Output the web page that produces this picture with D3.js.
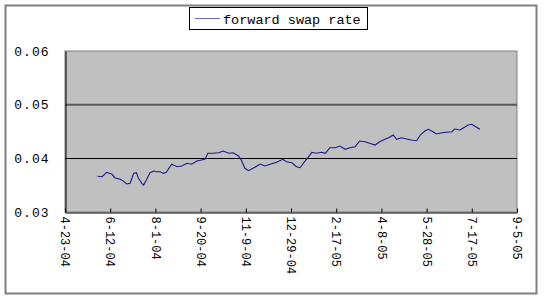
<!DOCTYPE html>
<html><head><meta charset="utf-8">
<script src="https://cdn.jsdelivr.net/npm/d3@7"></script>
<style>html,body{margin:0;padding:0;background:#fff;}svg{display:block;}</style>
</head><body>
<svg id="c" width="544" height="300"></svg>
<script>
const seriesName = "forward swap rate";
const xTickLabels = ["4-23-04","6-12-04","8-1-04","9-20-04","11-9-04","12-29-04","2-17-05","4-8-05","5-28-05","7-17-05","9-5-05"];
const yTickValues = [0.03, 0.04, 0.05, 0.06];
const yTickLabels = ["0.03", "0.04", "0.05", "0.06"];
const dates = ["2004-05-29","2004-06-03","2004-06-08","2004-06-14","2004-06-17","2004-06-23","2004-06-26","2004-06-30","2004-07-04","2004-07-08","2004-07-11","2004-07-13","2004-07-17","2004-07-19","2004-07-22","2004-07-26","2004-07-30","2004-08-02","2004-08-06","2004-08-10","2004-08-13","2004-08-19","2004-08-25","2004-08-30","2004-09-05","2004-09-10","2004-09-16","2004-09-21","2004-09-25","2004-09-28","2004-10-04","2004-10-10","2004-10-15","2004-10-21","2004-10-26","2004-11-01","2004-11-04","2004-11-08","2004-11-12","2004-11-17","2004-11-25","2004-11-30","2004-12-06","2004-12-13","2004-12-20","2004-12-24","2004-12-30","2005-01-04","2005-01-08","2005-01-13","2005-01-17","2005-01-21","2005-01-26","2005-02-01","2005-02-05","2005-02-10","2005-02-16","2005-02-21","2005-02-27","2005-03-04","2005-03-10","2005-03-15","2005-03-21","2005-03-26","2005-04-01","2005-04-06","2005-04-12","2005-04-17","2005-04-21","2005-04-25","2005-04-30","2005-05-06","2005-05-11","2005-05-17","2005-05-21","2005-05-26","2005-05-30","2005-06-04","2005-06-08","2005-06-14","2005-06-19","2005-06-25","2005-06-28","2005-07-04","2005-07-08","2005-07-13","2005-07-17","2005-07-20","2005-07-26"];
const rates = [0.03665,0.03658,0.0374,0.03702,0.03639,0.03609,0.03583,0.03522,0.03535,0.03721,0.03732,0.03639,0.03535,0.03503,0.03596,0.03732,0.03764,0.03751,0.03751,0.03721,0.0374,0.03889,0.03844,0.03857,0.03907,0.03889,0.0395,0.03969,0.03987,0.04094,0.04094,0.04105,0.04136,0.04094,0.04105,0.04043,0.03969,0.03814,0.03769,0.03814,0.03894,0.03857,0.03889,0.03926,0.03982,0.03937,0.03918,0.03844,0.03825,0.03937,0.04019,0.04112,0.04094,0.04112,0.04094,0.04198,0.04198,0.0423,0.04168,0.04198,0.04217,0.04323,0.0431,0.0428,0.04248,0.0431,0.04354,0.04392,0.04434,0.04354,0.04384,0.0436,0.04341,0.04328,0.04434,0.04509,0.04541,0.04496,0.04453,0.04477,0.04485,0.04496,0.04546,0.04528,0.0457,0.04621,0.04634,0.04602,0.04541];

const parseTick = d3.timeParse("%m-%d-%y");
const parseDate = d3.timeParse("%Y-%m-%d");
const tickDates = xTickLabels.map(parseTick);
const data = dates.map((d, i) => ({date: parseDate(d), v: rates[i]}));

const svg = d3.select("#c");
const L = 65, R = 517, T = 51, B = 212;
const x = d3.scaleTime().domain([tickDates[0], tickDates[tickDates.length - 1]]).range([L, R]);
const y = d3.scaleLinear().domain([0.03, 0.06]).range([B, T]);

// outer frame
svg.append("rect").attr("x", 5.5).attr("y", 5.5).attr("width", 531).attr("height", 288)
  .attr("fill", "#fff").attr("stroke", "#808080").attr("stroke-width", 2);

// plot area
svg.append("rect").attr("x", L).attr("y", T).attr("width", R - L).attr("height", B - T)
  .attr("fill", "#c0c0c0").attr("stroke", "#808080").attr("stroke-width", 1);

// gridlines
svg.append("line").attr("x1", L).attr("x2", R).attr("y1", y(0.05)).attr("y2", y(0.05))
  .attr("stroke", "#5a5a5a").attr("stroke-width", 2);
svg.append("line").attr("x1", L).attr("x2", R).attr("y1", Math.round(y(0.04)) + 0.5).attr("y2", Math.round(y(0.04)) + 0.5)
  .attr("stroke", "#000").attr("stroke-width", 1);

// x axis
const xAxis = d3.axisBottom(x).tickValues(tickDates).tickSize(-4).tickSizeOuter(0)
  .tickFormat((d, i) => xTickLabels[i]);
const gx = svg.append("g").attr("transform", `translate(0,${B + 0.5})`).call(xAxis);
gx.select(".domain").attr("stroke", "#000");
gx.selectAll(".tick line").attr("stroke", "#000");
gx.selectAll(".tick text")
  .attr("font-family", "Liberation Mono, DejaVu Sans Mono, monospace")
  .attr("font-size", 12).attr("fill", "#000")
  .attr("transform", "rotate(90)")
  .attr("text-anchor", "start").attr("x", 4).attr("y", 0).attr("dy", "0.35em");

// y axis
const yAxis = d3.axisLeft(y).tickValues(yTickValues).tickSize(0).tickSizeOuter(0)
  .tickFormat((d, i) => yTickLabels[i]);
const gy = svg.append("g").attr("transform", `translate(${L + 0.5},0)`).call(yAxis);
gy.select(".domain").attr("stroke", "#000");
gy.selectAll(".tick text")
  .attr("font-family", "Liberation Mono, DejaVu Sans Mono, monospace")
  .attr("font-size", 13).attr("fill", "#000").attr("letter-spacing", 1)
  .attr("x", -16);

// line
const line = d3.line().x(d => x(d.date)).y(d => y(d.v));
svg.append("path").datum(data).attr("d", line)
  .attr("fill", "none").attr("stroke", "#1a1a8a").attr("stroke-width", 1.1);

// legend
const lg = svg.append("g");
lg.append("rect").attr("x", 189.5).attr("y", 7.5).attr("width", 178).attr("height", 22)
  .attr("fill", "#fff").attr("stroke", "#000").attr("stroke-width", 1);
lg.append("line").attr("x1", 195).attr("x2", 220).attr("y1", 18.5).attr("y2", 18.5)
  .attr("stroke", "#6a6acc").attr("stroke-width", 1);
lg.append("text").attr("x", 223).attr("y", 19).attr("dy", "0.35em")
  .attr("font-family", "Liberation Mono, DejaVu Sans Mono, monospace")
  .attr("font-size", 13.5).attr("fill", "#000").text(seriesName);
</script>
</body></html>
